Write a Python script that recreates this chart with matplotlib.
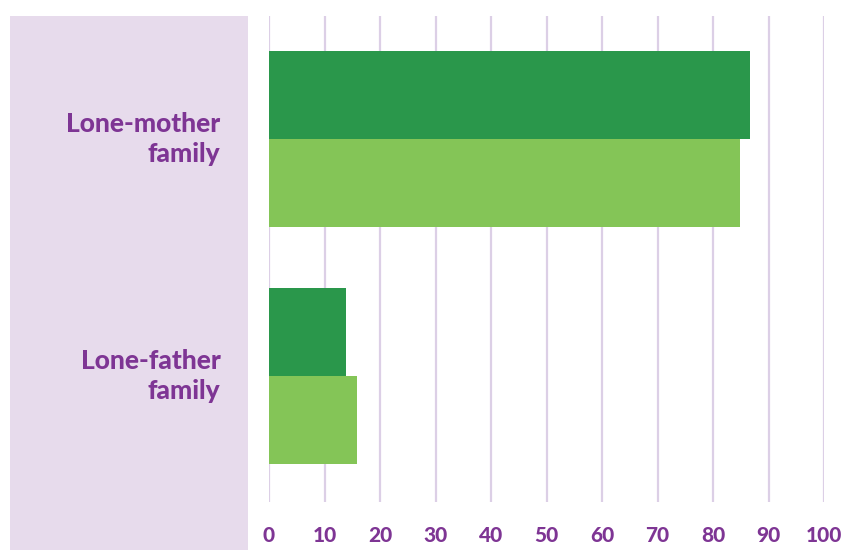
import matplotlib.pyplot as plt
from matplotlib.patches import Rectangle

categories = ['Lone-father\nfamily', 'Lone-mother\nfamily']
series_a = [13.9, 86.7]   # dark green (upper bar)
series_b = [15.9, 84.9]   # light green (lower bar)
x_ticks = [0, 10, 20, 30, 40, 50, 60, 70, 80, 90, 100]

dark_green = '#2a974b'
light_green = '#84c557'
purple = '#7e3594'
panel = '#e7dbec'
grid_col = '#dccfe6'

plt.rcParams['font.family'] = ['Lato', 'DejaVu Sans']

W, H = 841, 550
fig = plt.figure(figsize=(W / 100, H / 100), dpi=100)

# purple label panel on the left, in its own background axes
bg = fig.add_axes([0, 0, 1, 1], zorder=0)
bg.set_axis_off()
bg.set_xlim(0, W)
bg.set_ylim(H, 0)
bg.add_patch(Rectangle((10, 16), 238, 534, facecolor=panel, edgecolor='none'))

ax = fig.add_axes([269 / W, 48 / H, 555 / W, 486 / H], zorder=1)
ax.set_facecolor('none')

bh = 0.371
pos = list(range(len(categories)))
ax.barh([p + bh / 2 for p in pos], series_a, height=bh, color=dark_green, zorder=3)
ax.barh([p - bh / 2 for p in pos], series_b, height=bh, color=light_green, zorder=3)

ax.set_xlim(0, 100)
ax.set_ylim(-0.532, 1.519)
ax.set_xticks(x_ticks)
ax.set_xticklabels([str(t) for t in x_ticks])
# labels sit a touch above the group centre
ax.set_yticks([p + 0.02 for p in pos])
ax.set_yticklabels(categories, ha='right', multialignment='right', linespacing=1.3)

ax.grid(axis='x', color=grid_col, linewidth=1.6, zorder=1)
ax.tick_params(axis='x', length=0, pad=17, labelsize=15, labelcolor=purple)
ax.tick_params(axis='y', length=0, pad=35, labelsize=19, labelcolor=purple)
for lab in ax.get_xticklabels() + ax.get_yticklabels():
    lab.set_fontweight('black')
for s in ax.spines.values():
    s.set_visible(False)

fig.savefig('out.png', dpi=100)
